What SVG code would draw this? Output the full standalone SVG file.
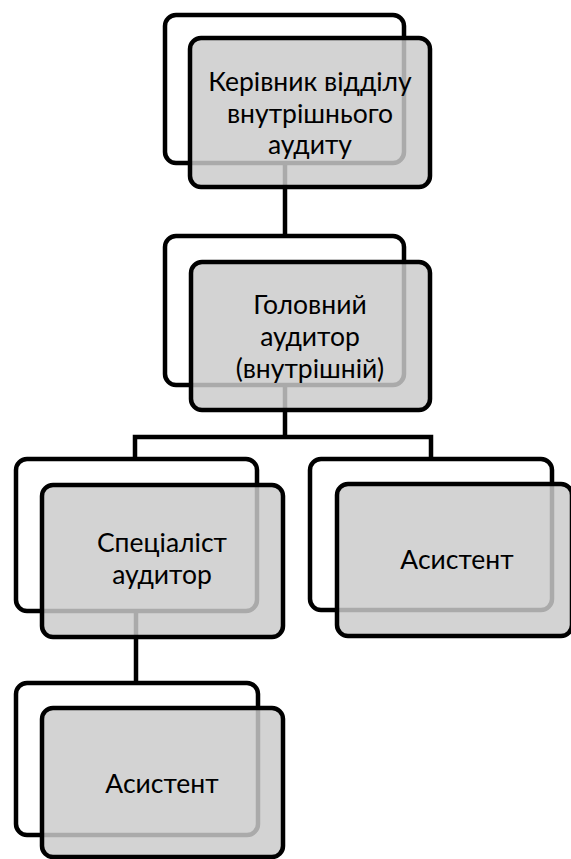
<svg xmlns="http://www.w3.org/2000/svg" width="571" height="859" viewBox="0 0 571 859">
<style>
.bg{fill:#ffffff;stroke:#000;stroke-width:4.5}
.fg{fill:rgb(202,202,202);fill-opacity:0.84;stroke:#000;stroke-width:4.5}
.c{fill:none;stroke:#000;stroke-width:4.5}
text{font-family:Lato,"Liberation Sans",sans-serif;font-size:26.5px;fill:#000;text-anchor:middle}
</style>
<rect width="571" height="859" fill="#fff"/>
<g id="connectors">
<path class="c" d="M285,160 V236"/>
<path class="c" d="M285,384 V437 M135,459 V437 H431 V459"/>
<path class="c" d="M136,610 V683"/>
</g>
<g id="n1">
<rect class="bg" x="165" y="15" width="239" height="148" rx="11"/>
<rect class="fg" x="190" y="38" width="240" height="149" rx="11"/>
<text x="310" y="91">Керівник відділу</text>
<text x="310" y="123">внутрішнього</text>
<text x="310" y="154">аудиту</text>
</g>
<g id="n2">
<rect class="bg" x="165" y="236" width="239" height="149" rx="11"/>
<rect class="fg" x="191" y="262" width="239" height="148" rx="11"/>
<text x="310" y="314">Головний</text>
<text x="310" y="346">аудитор</text>
<text x="310" y="378">(внутрішній)</text>
</g>
<g id="n3">
<rect class="bg" x="16" y="459" width="241" height="152" rx="11"/>
<rect class="fg" x="42" y="485" width="241" height="152" rx="11"/>
<text x="162" y="552">Спеціаліст</text>
<text x="162" y="584">аудитор</text>
</g>
<g id="n4">
<rect class="bg" x="310" y="459" width="242" height="151" rx="11"/>
<rect class="fg" x="337" y="484" width="235" height="152" rx="11"/>
<text x="457" y="569">Асистент</text>
</g>
<g id="n5">
<rect class="bg" x="16" y="683" width="242" height="152" rx="11"/>
<rect class="fg" x="42" y="708" width="241" height="149" rx="11"/>
<text x="162" y="793">Асистент</text>
</g>
</svg>
